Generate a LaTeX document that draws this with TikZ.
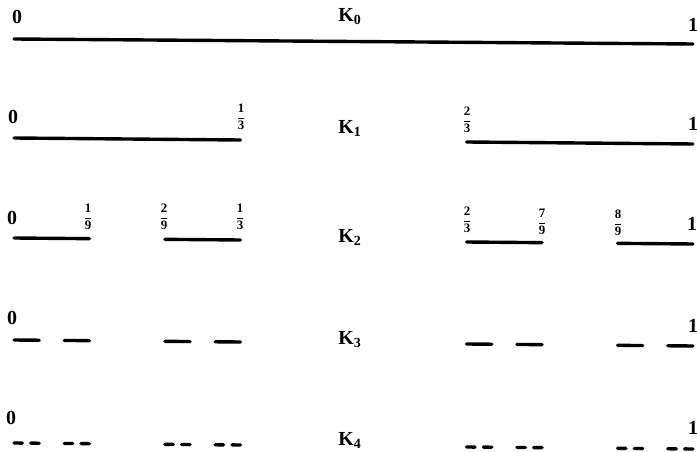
\documentclass[tikz,border=0pt]{standalone}
\usepackage{amsmath}
\usepackage{fontspec}
\setmainfont{Liberation Serif}
\usepackage{tikz}
\usetikzlibrary{positioning}

\begin{document}
\begin{tikzpicture}[x=0.03cm, y=-0.03cm,
  seg/.style={line width=2.9pt, line cap=round},
  endlbl/.style={font=\bfseries\fontsize{17}{17}\selectfont, inner sep=0pt},
  fraclbl/.style={font=\fontsize{11}{11}\selectfont, inner sep=0pt},
  lvl/.style={font=\bfseries\fontsize{17}{17}\selectfont, inner sep=0pt}
]
  \useasboundingbox (0,0) rectangle (697,452);

  % K_0
  \draw[seg] (14,39) -- (693,44);
  \node[endlbl] (z0) at (17,17) {0};
  \node[endlbl] (o0) at (693,25) {1};
  \node[lvl] (k0) at (350,17) {K$_{\mathbf{0}}$};

  % Cantor intervals, starts in units of 1/\n
  \foreach \lev/\n/\ya/\starts in {1/3/138/{0,2}, 2/9/238/{0,2,6,8},
      3/27/340/{0,2,6,8,18,20,24,26},
      4/81/443/{0,2,6,8,18,20,24,26,54,56,60,62,72,74,78,80}} {
    \foreach \s in \starts {
      \draw[seg] ({14+679*(\s/\n)}, {\ya+6*(\s/\n)})
        -- ({14+679*((\s+1)/\n)}, {\ya+6*((\s+1)/\n)});
    }
  }

  % K_1
  \node[endlbl] (z1) at (13,117) {0};
  \node[fraclbl] (a1) at (241,117) {$\dfrac{\mathbf{1}}{\mathbf{3}}$};
  \node[fraclbl] (b1) at (467,120) {$\dfrac{\mathbf{2}}{\mathbf{3}}$};
  \node[endlbl] (o1) at (693,124) {1};
  \node[lvl] (k1) at (350,128) {K$_{\mathbf{1}}$};

  % K_2
  \node[endlbl] (z2) at (12,218) {0};
  \foreach \i/\x/\y/\p/\q in {1/88/217/1/9, 2/164/217/2/9, 3/240/217/1/3,
      4/467/220/2/3, 5/542/222/7/9, 6/618/223/8/9} {
    \node[fraclbl] (f2\i) at (\x,\y) {$\dfrac{\mathbf{\p}}{\mathbf{\q}}$};
  }
  \node[endlbl] (o2) at (692,224) {1};
  \node[lvl] (k2) at (350,237) {K$_{\mathbf{2}}$};

  % K_3
  \node[endlbl] (z3) at (12,318) {0};
  \node[endlbl] (o3) at (693,326) {1};
  \node[lvl] (k3) at (350,340) {K$_{\mathbf{3}}$};

  % K_4
  \node[endlbl] (z4) at (11,418) {0};
  \node[endlbl] (o4) at (693,428) {1};
  \node[lvl] (k4) at (350,440) {K$_{\mathbf{4}}$};
\end{tikzpicture}
\end{document}
